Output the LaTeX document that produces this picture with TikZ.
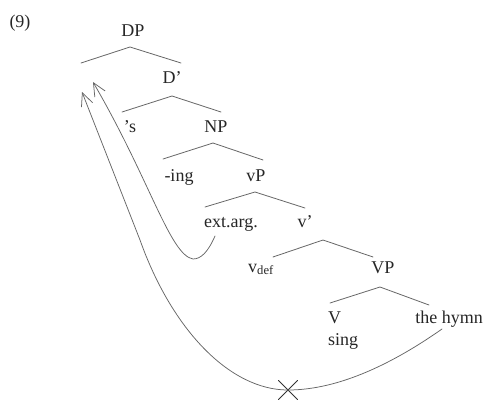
\documentclass[tikz,border=0pt]{standalone}
\usepackage{fontspec}
\setmainfont{Liberation Serif}
\usetikzlibrary{arrows.meta}
\usetikzlibrary{shapes.misc}

\begin{document}
\begin{tikzpicture}[line cap=round,line join=round,x=1pt,y=-1pt,
  >={Straight Barb[length=13pt,width=12pt]},
  lab/.style={font=\fontsize{18}{22}\selectfont,text=black!85,inner sep=0pt,anchor=base},
  branch/.style={line width=0.8pt,color=black!60},
  move/.style={->,line width=0.75pt,color=black!60}]
\useasboundingbox (0,0) rectangle (490,399);
% labels
\node[lab] (ex) at (20,27) {(9)};
\node[lab] (dp) at (133,36) {DP};
\node[lab] (dbar) at (172,83) {D’};
\node[lab] (poss) at (130,132) {’s};
\node[lab] (np) at (216,132) {NP};
\node[lab] (ing) at (179,181) {-ing};
\node[lab] (vp) at (256,181) {vP};
\node[lab] (extarg) at (231,227) {ext.arg.};
\node[lab] (vbar) at (305,227) {v’};
\node[lab] (vdef) at (261,272) {v\textsubscript{def}};
\node[lab] (bigvp) at (383,273) {VP};
\node[lab,anchor=base west] (verb) at (328,323) {V};
\node[lab,anchor=base west] (sing) at (328,345) {sing};
\node[lab] (hymn) at (449,323) {the hymn};
% branches
\coordinate (l1) at (81,63);   \coordinate (p1) at (130,47);  \coordinate (r1) at (181,63);
\coordinate (l2) at (122,112); \coordinate (p2) at (172,96);  \coordinate (r2) at (221,112);
\coordinate (l3) at (163,159); \coordinate (p3) at (213,143); \coordinate (r3) at (263,160);
\coordinate (l4) at (205,207); \coordinate (p4) at (255,192); \coordinate (r4) at (305,208);
\coordinate (l5) at (273,257); \coordinate (p5) at (323,240); \coordinate (r5) at (373,257);
\coordinate (l6) at (330,303); \coordinate (p6) at (380,287); \coordinate (r6) at (429,305);
\foreach \b in {1,...,6}
\draw[branch] (l\b) -- (p\b) -- (r\b);
% movement
\coordinate (extfoot) at (215,236);
\coordinate (tipa) at (93,82);
\coordinate (hymnfoot) at (442,329);
\coordinate (tipb) at (82,92);
\node[draw=black!80,line width=1pt,cross out,minimum size=18pt,inner sep=0pt] (cross) at (288,390) {};
\draw[move] (extfoot) .. controls (208,252) and (201,259) .. (193,259)
  .. controls (170,255) and (150,180) .. (tipa);
\draw[move] (hymnfoot) .. controls (395,362) and (340,390) .. (cross.center)
  .. controls (230,390) and (172,330) .. (140,240) -- (tipb);
\end{tikzpicture}
\end{document}
